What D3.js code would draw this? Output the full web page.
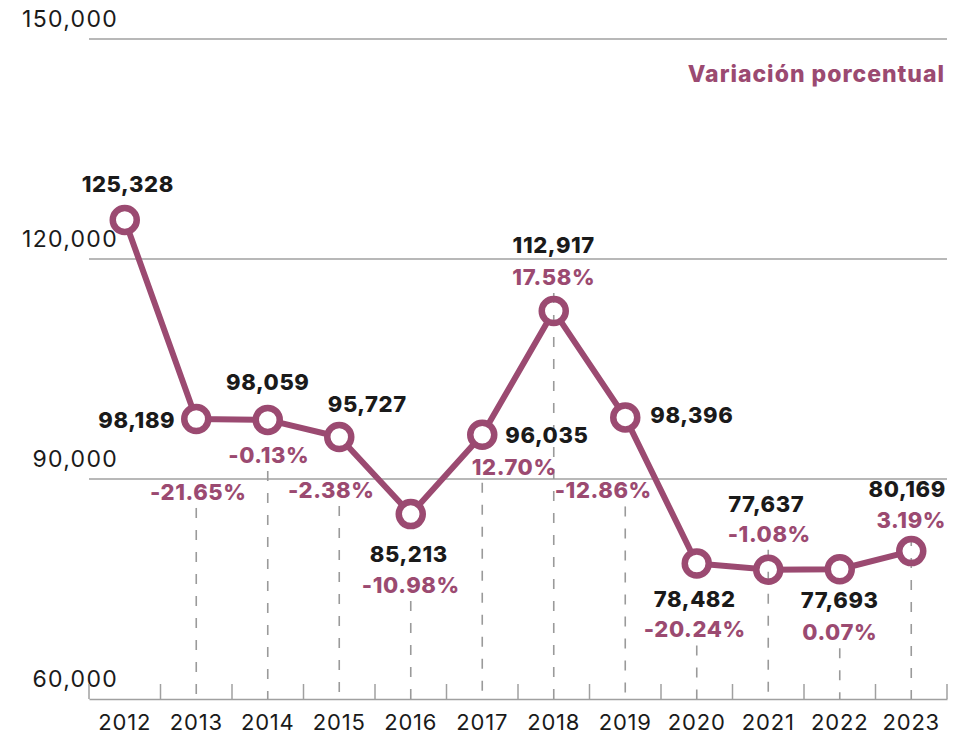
<!DOCTYPE html>
<html>
<head>
<meta charset="utf-8">
<script src="https://cdn.jsdelivr.net/npm/d3@7"></script>
<style>
  html, body { margin: 0; padding: 0; background: #fff; }
  svg { display: block; font-family: Inter, 'Noto Sans', sans-serif; }
</style>
</head>
<body>
<div id="chart"></div>
<script>
// datos
const years = ['2012', '2013', '2014', '2015', '2016', '2017', '2018', '2019', '2020', '2021', '2022', '2023']
const values = [125328, 98189, 98059, 95727, 85213, 96035, 112917, 98396, 78482, 77637, 77693, 80169]
const variation = [null, '-21.65%', '-0.13%', '-2.38%', '-10.98%', '12.70%', '17.58%', '-12.86%', '-20.24%', '-1.08%', '0.07%', '3.19%']
const yTicks = [60000, 90000, 120000, 150000]

// colocación de etiquetas (desplazamiento respecto al punto)
const valueLabelPos = [
  { dx: 3, dy: -28, anchor: 'middle' },
  { dx: -21, dy: 9, anchor: 'end' },
  { dx: 0, dy: -30, anchor: 'middle' },
  { dx: 28, dy: -25, anchor: 'middle' },
  { dx: -2, dy: 48, anchor: 'middle' },
  { dx: 23, dy: 8, anchor: 'start' },
  { dx: 0, dy: -58, anchor: 'middle' },
  { dx: 25, dy: 6, anchor: 'start' },
  { dx: -2, dy: 44, anchor: 'middle' },
  { dx: -2, dy: -58, anchor: 'middle' },
  { dx: 0, dy: 39, anchor: 'middle' },
  { dx: -4, dy: -54, anchor: 'middle' }
]
const pctLabelPos = [
  null,
  { dx: 2, dy: 81 },
  { dx: 1, dy: 43 },
  { dx: -8, dy: 61 },
  { dx: 0, dy: 79 },
  { dx: 32, dy: 40 },
  { dx: 0, dy: -26 },
  { dx: -22, dy: 81 },
  { dx: -2, dy: 74 },
  { dx: 1, dy: -28 },
  { dx: 0, dy: 71 },
  { dx: 0, dy: -23 }
]

const data = years.map((y, i) => ({ year: y, value: values[i], pct: variation[i], vp: valueLabelPos[i], pp: pctLabelPos[i] }))

const W = 972
const H = 736
const mauve = '#9b4a71'
const grey = '#a0a0a0'

const svg = d3.select('#chart')
  .append('svg')
  .attr('width', W)
  .attr('height', H)

const x = d3.scaleBand()
  .domain(years)
  .range([89, 947])

const y = d3.scaleLinear()
  .domain([60000, 150000])
  .range([699, 39])

const cx = d => x(d.year) + x.bandwidth() / 2

// líneas de cuadrícula
svg.append('g')
  .selectAll('line')
  .data(yTicks.slice(1))
  .enter()
  .append('line')
  .attr('x1', 89)
  .attr('x2', 947)
  .attr('y1', d => y(d))
  .attr('y2', d => y(d))
  .attr('stroke', grey)
  .attr('stroke-width', 1.5)

// etiquetas del eje Y
svg.append('g')
  .selectAll('text')
  .data(yTicks)
  .enter()
  .append('text')
  .attr('x', 118)
  .attr('y', d => y(d) - 12)
  .attr('text-anchor', 'end')
  .style('font-size', '23px')
  .style('letter-spacing', '1.3px')
  .style('fill', '#1a1a1a')
  .text(d => d3.format(',')(d))

// eje X
const xAxis = svg.append('g')
  .attr('transform', `translate(0,${y(60000)})`)
  .call(d3.axisBottom(x).tickSize(0).tickPadding(15))

xAxis.select('.domain')
  .attr('stroke', grey)
  .attr('stroke-width', 1.5)

xAxis.selectAll('text')
  .style('font-family', 'Inter, sans-serif')
  .style('font-size', '22px')
  .style('letter-spacing', '0.8px')
  .style('fill', '#1a1a1a')
  .attr('dy', '0.71em')

// marcas entre años
xAxis.append('g')
  .selectAll('line')
  .data(years.concat(['end']))
  .enter()
  .append('line')
  .attr('x1', (d, i) => i < years.length ? x(d) : x(years[years.length - 1]) + x.bandwidth())
  .attr('x2', (d, i) => i < years.length ? x(d) : x(years[years.length - 1]) + x.bandwidth())
  .attr('y1', 0)
  .attr('y2', -15)
  .attr('stroke', grey)
  .attr('stroke-width', 1.5)

// línea
svg.append('path')
  .datum(data)
  .attr('fill', 'none')
  .attr('stroke', mauve)
  .attr('stroke-width', 6)
  .attr('stroke-linejoin', 'round')
  .attr('d', d3.line().x(cx).y(d => y(d.value)))

// relleno de los puntos
svg.append('g')
  .selectAll('circle')
  .data(data)
  .enter()
  .append('circle')
  .attr('cx', cx)
  .attr('cy', d => y(d.value))
  .attr('r', 12)
  .attr('fill', '#fff')

// guías punteadas
const withPct = data.filter(d => d.pct)
svg.append('g')
  .selectAll('line')
  .data(withPct)
  .enter()
  .append('line')
  .attr('x1', cx)
  .attr('x2', cx)
  .attr('y1', d => y(d.value) + d.pp.dy + 8)
  .attr('y2', y(60000))
  .attr('stroke', '#9a9a9a')
  .attr('stroke-width', 1.6)
  .attr('stroke-dasharray', '10,12')

// anillos de los puntos
svg.append('g')
  .selectAll('circle')
  .data(data)
  .enter()
  .append('circle')
  .attr('cx', cx)
  .attr('cy', d => y(d.value))
  .attr('r', 12)
  .attr('fill', 'none')
  .attr('stroke', mauve)
  .attr('stroke-width', 6.5)

// etiquetas de valor
svg.append('g')
  .selectAll('text')
  .data(data)
  .enter()
  .append('text')
  .attr('x', d => cx(d) + d.vp.dx)
  .attr('y', d => y(d.value) + d.vp.dy)
  .attr('text-anchor', d => d.vp.anchor)
  .style('font-size', '22px')
  .style('font-weight', 800)
  .style('letter-spacing', '0.6px')
  .style('fill', '#1a1a1a')
  .text(d => d3.format(',')(d.value))

// etiquetas de variación
svg.append('g')
  .selectAll('text')
  .data(withPct)
  .enter()
  .append('text')
  .attr('x', d => cx(d) + d.pp.dx)
  .attr('y', d => y(d.value) + d.pp.dy)
  .attr('text-anchor', 'middle')
  .style('font-size', '22px')
  .style('font-weight', 800)
  .style('letter-spacing', '0.6px')
  .style('fill', mauve)
  .text(d => d.pct)

// leyenda
svg.append('text')
  .attr('x', 945)
  .attr('y', 82)
  .attr('text-anchor', 'end')
  .style('font-size', '23px')
  .style('font-weight', 800)
  .style('letter-spacing', '1px')
  .style('fill', mauve)
  .text('Variación porcentual')
</script>
</body>
</html>
